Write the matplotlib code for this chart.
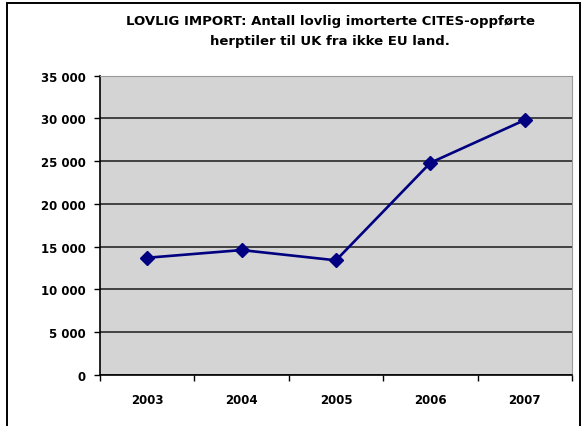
import matplotlib.pyplot as plt
from matplotlib.patches import Rectangle

years = ['2003', '2004', '2005', '2006', '2007']
imports = [13700, 14600, 13400, 24800, 29800]
yticks = [0, 5000, 10000, 15000, 20000, 25000, 30000, 35000]

fig = plt.figure(figsize=(5.85, 4.27), dpi=100)
fig.patch.set_facecolor('white')

# outer chart frame
fig.patches.append(Rectangle((7/585, -0.02), 573/585, 1 - 4/427 + 0.02,
                             transform=fig.transFigure, fill=False,
                             edgecolor='black', linewidth=1.4))

ax = fig.add_axes([100/585, 1 - 376/427, 472/585, 299.5/427])
ax.set_facecolor('#d4d4d4')

x = list(range(len(years)))
ax.plot(x, imports, color='#000080', linewidth=1.9, marker='D',
        markersize=7, zorder=3)

ax.set_xlim(-0.5, len(years) - 0.5)
ax.set_ylim(0, 35000)
ax.set_yticks(yticks)
ax.set_yticklabels([f'{v:,}'.replace(',', ' ') if v else '0' for v in yticks],
                   fontsize=8.5, fontweight='bold')
ax.grid(axis='y', color='#1a1a1a', linewidth=1.1)
ax.set_axisbelow(True)

# category boundaries get tick marks, labels sit in between
ax.set_xticks([i - 0.5 for i in range(len(years) + 1)])
ax.set_xticklabels([])
ax.set_xticks(x, minor=True)
ax.set_xticklabels(years, minor=True, fontsize=8.5, fontweight='bold')
ax.tick_params(axis='x', which='minor', length=0, pad=13)
ax.tick_params(axis='x', which='major', length=4, width=1)
ax.tick_params(axis='y', length=4, width=1, pad=6)

ax.spines['left'].set_color('black')
ax.spines['bottom'].set_color('black')
ax.spines['left'].set_linewidth(1.2)
ax.spines['bottom'].set_linewidth(1.2)
ax.spines['top'].set_color('#999999')
ax.spines['right'].set_color('#999999')

fig.text(330/585, 1 - 22/427,
         'LOVLIG IMPORT: Antall lovlig imorterte CITES-oppførte',
         ha='center', va='center', fontsize=9.5, fontweight='bold')
fig.text(330/585, 1 - 42/427, 'herptiler til UK fra ikke EU land.',
         ha='center', va='center', fontsize=9.5, fontweight='bold')

fig.savefig('out.png', dpi=100)
